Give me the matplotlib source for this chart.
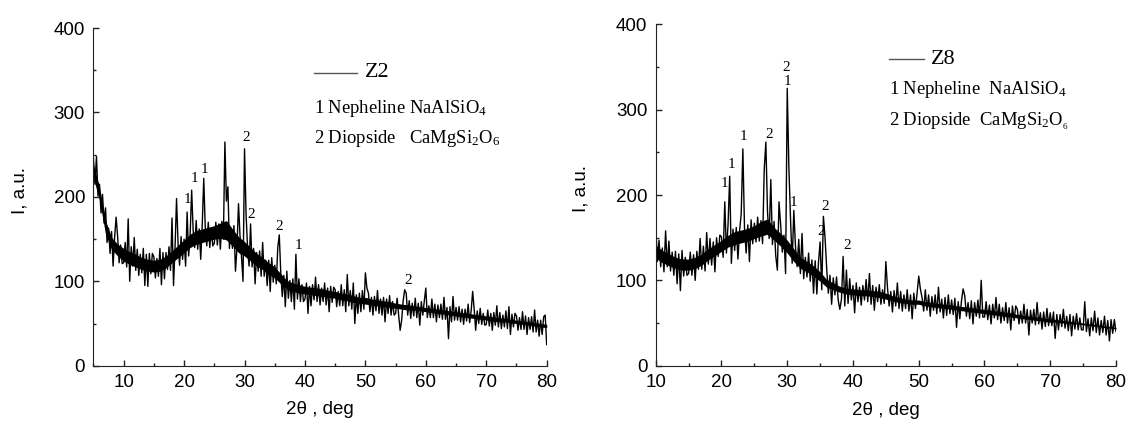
import matplotlib
matplotlib.use('Agg')
import matplotlib.pyplot as plt
import numpy as np

plt.rcParams['font.family'] = ['Liberation Sans', 'DejaVu Sans']
plt.rcParams['mathtext.fontset'] = 'custom'
plt.rcParams['mathtext.rm'] = 'Liberation Serif'
plt.rcParams['mathtext.default'] = 'rm'

# Z2 pattern, 2theta = 5 ... 80, step 0.25 (one row = 5 deg)
z2_start, z2_step = 5.0, 0.25
z2_counts = [
    245, 215, 248, 201, 215, 181, 203, 169, 187, 146, 163, 133, 159, 118, 152, 176, 153, 122, 143, 121,
    122, 146, 117, 174, 100, 141, 118, 152, 113, 138, 107, 132, 110, 139, 95, 132, 94, 133, 109, 133,
    129, 104, 127, 106, 139, 96, 134, 103, 134, 114, 141, 113, 175, 95, 140, 198, 145, 119, 153, 126,
    150, 118, 182, 130, 155, 208, 160, 140, 172, 138, 162, 126, 166, 222, 164, 142, 170, 140, 162, 142,
    145, 170, 143, 168, 138, 171, 150, 265, 195, 212, 139, 163, 139, 166, 112, 140, 192, 154, 129, 100,
    257, 180, 140, 118, 168, 117, 139, 97, 134, 112, 136, 106, 146, 106, 125, 95, 125, 88, 128, 99,
    119, 97, 140, 155, 109, 82, 107, 70, 112, 80, 101, 76, 103, 67, 132, 79, 103, 76, 96, 76,
    79, 98, 62, 94, 71, 96, 78, 105, 76, 96, 72, 92, 76, 98, 72, 92, 64, 94, 75, 93,
    90, 70, 88, 71, 96, 71, 90, 64, 108, 71, 89, 67, 98, 50, 84, 62, 86, 64, 89, 67,
    110, 92, 86, 64, 81, 60, 82, 65, 89, 62, 79, 60, 81, 52, 79, 62, 83, 60, 76, 60,
    62, 80, 60, 42, 54, 77, 90, 86, 60, 77, 56, 74, 59, 80, 57, 74, 48, 76, 60, 77,
    92, 57, 71, 57, 79, 57, 73, 52, 72, 57, 73, 55, 81, 55, 69, 32, 70, 52, 82, 54,
    69, 54, 70, 52, 67, 49, 67, 53, 73, 51, 65, 88, 67, 42, 65, 50, 68, 49, 62, 48,
    49, 66, 47, 62, 42, 63, 48, 71, 46, 63, 44, 60, 46, 65, 44, 70, 37, 61, 46, 62,
    59, 42, 57, 43, 64, 43, 59, 37, 57, 43, 58, 40, 66, 40, 54, 35, 54, 37, 58, 60,
    25,
]
# solid black middle of the Z2 noise band, one value per degree (5 ... 80)
z2_core_lo = [222, 196, 156, 138, 130, 124, 120, 117, 114, 112, 111, 112, 116, 122, 128, 134,
              140, 144, 146, 148, 150, 151, 149, 142, 134, 130, 124, 118, 114, 108, 104, 97,
              91, 88, 86, 85, 84, 83, 82, 81, 80, 78, 77, 75, 74, 73, 72, 71, 70, 69, 68, 67,
              66, 66, 65, 64, 63, 62, 61, 60, 59, 58, 57, 56, 55, 54, 53, 52, 52, 51, 50, 49,
              48, 47, 46, 45]
z2_core_hi = [238, 212, 172, 152, 144, 139, 135, 132, 128, 126, 125, 126, 130, 136, 143, 149,
              156, 160, 162, 164, 166, 169, 172, 162, 153, 147, 140, 133, 128, 122, 117, 109,
              101, 98, 96, 94, 93, 92, 91, 89, 88, 86, 85, 83, 81, 81, 79, 78, 77, 76, 74, 73,
              72, 71, 70, 69, 68, 67, 66, 65, 64, 63, 62, 61, 60, 59, 58, 57, 56, 55, 54, 53,
              52, 51, 50, 49]

# Z8 pattern, 2theta = 10 ... 80, step 0.25
z8_start, z8_step = 10.0, 0.25
z8_counts = [
    165, 122, 147, 116, 138, 110, 158, 116, 146, 111, 133, 106, 134, 96, 131, 88, 135, 105, 127, 106,
    108, 133, 106, 130, 100, 134, 113, 149, 113, 140, 111, 156, 119, 149, 118, 145, 110, 150, 128, 153,
    151, 127, 192, 132, 166, 222, 120, 160, 135, 162, 125, 158, 178, 254, 161, 132, 165, 122, 171, 143,
    167, 145, 174, 146, 170, 143, 230, 262, 180, 149, 218, 142, 169, 129, 112, 192, 165, 133, 153, 108,
    325, 232, 172, 120, 182, 140, 116, 148, 108, 155, 102, 127, 104, 132, 99, 124, 85, 123, 84, 121,
    145, 89, 175, 150, 114, 85, 106, 72, 103, 83, 104, 77, 66, 78, 128, 70, 112, 73, 102, 77,
    94, 62, 97, 75, 92, 71, 94, 77, 101, 75, 108, 72, 94, 65, 92, 75, 95, 72, 89, 73,
    122, 91, 70, 87, 63, 88, 70, 97, 67, 87, 64, 83, 67, 89, 64, 83, 55, 85, 67, 85,
    105, 90, 80, 64, 89, 65, 83, 58, 81, 65, 83, 61, 92, 63, 78, 56, 80, 59, 83, 61,
    77, 60, 79, 45, 75, 55, 76, 90, 82, 58, 74, 55, 76, 49, 74, 58, 77, 56, 100, 57,
    57, 75, 54, 71, 49, 72, 56, 80, 54, 72, 50, 68, 53, 74, 50, 68, 42, 70, 53, 70,
    66, 49, 64, 50, 72, 50, 66, 36, 65, 50, 66, 48, 74, 49, 62, 43, 63, 46, 67, 47,
    62, 47, 63, 32, 60, 42, 60, 46, 66, 44, 58, 41, 60, 35, 58, 43, 61, 42, 56, 42,
    42, 75, 40, 55, 35, 56, 41, 64, 39, 56, 36, 53, 39, 58, 36, 53, 29, 54, 38, 54,
    40,
]
# solid black middle of the Z8 noise band, one value per degree (10 ... 80)
z8_core_lo = [126, 121, 117, 114, 112, 112, 114, 118, 124, 129, 134, 139, 142, 144, 146, 149,
              152, 154, 147, 140, 132, 122, 114, 110, 105, 99, 92, 89, 86, 84, 83, 82, 82, 81,
              80, 78, 76, 74, 73, 72, 72, 70, 69, 68, 67, 66, 65, 64, 63, 62, 61, 60, 59, 58,
              57, 56, 55, 54, 53, 52, 51, 51, 50, 49, 49, 48, 47, 46, 45, 44, 43]
z8_core_hi = [141, 135, 131, 127, 125, 125, 127, 131, 137, 142, 147, 153, 157, 159, 161, 164,
              169, 172, 162, 155, 147, 137, 127, 122, 117, 110, 101, 97, 93, 91, 90, 89, 89, 88,
              87, 85, 82, 80, 78, 77, 77, 75, 74, 73, 72, 71, 70, 69, 68, 67, 66, 65, 64, 63,
              62, 60, 59, 58, 57, 56, 55, 54, 53, 52, 51, 50, 49, 48, 47, 46, 45]

# phase marks: (2theta, intensity, label)
z2_marks = [(20.6, 197, '1'), (21.7, 222, '1'), (23.3, 232, '1'), (30.3, 270, '2'),
            (31.1, 179, '2'), (35.8, 165, '2'), (38.9, 143, '1'), (57.0, 101, '2')]
z8_marks = [(20.5, 213, '1'), (21.5, 236, '1'), (23.3, 268, '1'), (27.2, 271, '2'),
            (29.8, 349, '2'), (30.0, 333, '1'), (31.0, 191, '1'), (35.2, 157, '2'),
            (35.8, 186, '2'), (39.1, 141, '2')]

panels = [
    dict(name='Z2', start=z2_start, step=z2_step, y=z2_counts, lo=z2_core_lo, hi=z2_core_hi,
         marks=z2_marks, xlim=(5, 80),
         line1='1 Nepheline NaAlSiO$_4$', line2='2 Diopside   CaMgSi$_2$O$_6$',
         rect=[0.0827, 0.1455, 0.4011, 0.7889], leg=(0.487, 0.582, 0.598, 0.868, 0.762, 0.674)),
    dict(name='Z8', start=z8_start, step=z8_step, y=z8_counts, lo=z8_core_lo, hi=z8_core_hi,
         marks=z8_marks, xlim=(10, 80),
         line1='1 Nepheline  NaAlSiO$_4$', line2='2 Diopside  CaMgSi$_2$O$_{_6}$',
         rect=[0.5803, 0.1455, 0.4073, 0.7977], leg=(0.507, 0.582, 0.598, 0.8975, 0.81, 0.715)),
]

fig = plt.figure(figsize=(11.3, 4.28), dpi=100)
axis_color = '#222222'
for p in panels:
    ax = fig.add_axes(p['rect'])
    xc = np.arange(p['xlim'][0], p['xlim'][1] + 1)
    ax.fill_between(xc, p['lo'], p['hi'], color='black', lw=0)
    x = p['start'] + p['step'] * np.arange(len(p['y']))
    ax.plot(x, p['y'], color='black', lw=1.0)

    ax.set_xlim(p['xlim'])
    ax.set_ylim(0, 400)
    ax.set_xticks(np.arange(10, 81, 10))
    ax.set_xticks(np.arange(p['xlim'][0], 81, 5), minor=True)
    ax.set_yticks([0, 100, 200, 300, 400])
    ax.set_yticks([50, 150, 250, 350], minor=True)
    ax.tick_params(which='major', direction='in', length=4.3, width=1, color=axis_color,
                   labelsize=13.5, pad=6)
    ax.tick_params(which='minor', direction='in', length=2.2, width=1, color=axis_color)
    for s in ['top', 'right']:
        ax.spines[s].set_visible(False)
    for s in ['left', 'bottom']:
        ax.spines[s].set_color(axis_color)

    ax.set_xlabel('2θ , deg', fontsize=13.5, va='center')
    ax.xaxis.set_label_coords(0.5, -0.131)
    ax.set_ylabel('I, a.u.', fontsize=13.5, va='center')
    ax.yaxis.set_label_coords(-0.162, 0.52)

    # legend drawn by hand like the original
    lx0, lx1, tx, ly0, ly1, ly2 = p['leg']
    ax.plot([lx0, lx1], [ly0, ly0], transform=ax.transAxes, color='#555555', lw=1)
    ax.text(tx, ly0, p['name'], transform=ax.transAxes, family='Liberation Serif',
            fontsize=16, va='center')
    ax.text(lx0, ly1, p['line1'], transform=ax.transAxes, family='Liberation Serif',
            fontsize=13.4, va='center')
    ax.text(lx0, ly2, p['line2'], transform=ax.transAxes, family='Liberation Serif',
            fontsize=13.4, va='center')

    for mx, my, lab in p['marks']:
        ax.text(mx, my, lab, family='Liberation Serif', fontsize=11, ha='center', va='center')

fig.savefig('out.png', dpi=100)
